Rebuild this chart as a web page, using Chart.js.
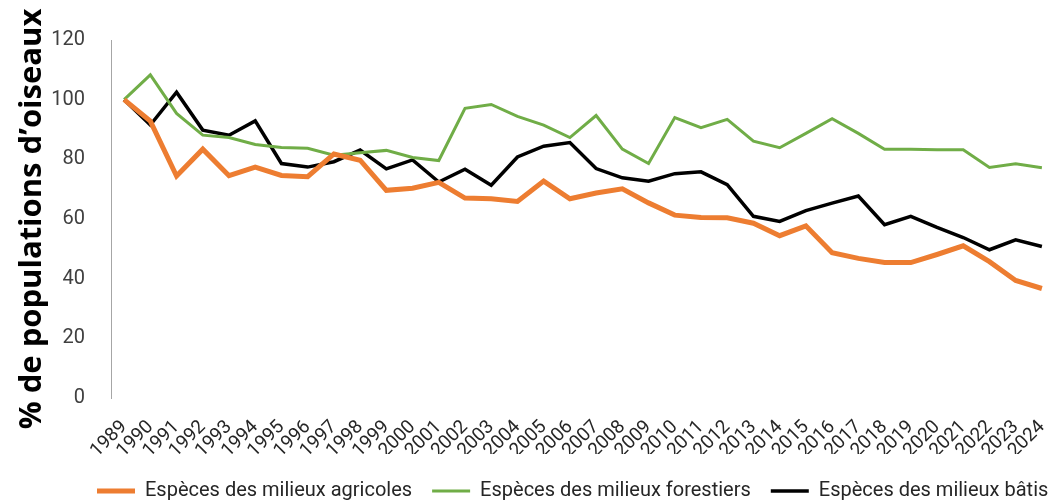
<!DOCTYPE html>
<html lang="fr">
<head>
<meta charset="utf-8">
<script src="https://cdn.jsdelivr.net/npm/chart.js@4/dist/chart.umd.min.js"></script>
<style>
  html, body { margin: 0; padding: 0; background: #ffffff; }
  #wrap { width: 1055px; height: 504px; }
</style>
</head>
<body>
<div id="wrap"><canvas id="chart" width="1055" height="504"></canvas></div>
<script>
// Années de suivi
const years = [
  '1989','1990','1991','1992','1993','1994','1995','1996','1997','1998',
  '1999','2000','2001','2002','2003','2004','2005','2006','2007','2008',
  '2009','2010','2011','2012','2013','2014','2015','2016','2017','2018',
  '2019','2020','2021','2022','2023','2024'
];

// Indice d'abondance (base 100 en 1989)
const agricoles = [
  100, 92.8, 74.4, 83.4, 74.5, 77.4, 74.6, 74.2, 81.8, 79.7,
  69.6, 70.3, 72.3, 67.0, 66.8, 65.9, 72.7, 66.8, 68.7, 70.1,
  65.4, 61.3, 60.5, 60.4, 58.6, 54.4, 57.7, 48.7, 46.8, 45.4,
  45.4, 48.1, 51.0, 45.7, 39.4, 36.7
];
const forestiers = [
  100, 108.3, 95.4, 88.1, 87.3, 85.0, 84.0, 83.7, 81.4, 82.2,
  83.0, 80.6, 79.6, 97.1, 98.4, 94.4, 91.5, 87.3, 94.7, 83.4,
  78.6, 94.0, 90.6, 93.4, 86.1, 83.9, 88.7, 93.6, 88.7, 83.4,
  83.4, 83.2, 83.2, 77.3, 78.5, 77.2
];
const batis = [
  100, 91.5, 102.5, 89.8, 88.1, 92.9, 78.6, 77.4, 79.2, 83.1,
  76.8, 79.8, 72.4, 76.7, 71.3, 80.8, 84.4, 85.6, 76.9, 73.8,
  72.7, 75.2, 75.8, 71.5, 60.9, 59.2, 62.8, 65.3, 67.7, 58.1,
  60.9, 57.2, 53.8, 49.7, 53.0, 50.8
];

// Graduations de l'axe vertical
const yTicks = [0, 20, 40, 60, 80, 100, 120];

const seriesNames = [
  'Espèces des milieux agricoles',
  'Espèces des milieux forestiers',
  'Espèces des milieux bâtis'
];

// Placement de la légende : départ à gauche sous l'axe, ligne proche du bas du canevas
const legendPlacement = {
  id: 'legendPlacement',
  afterLayout(chart) {
    const lg = chart.legend;
    if (!lg) return;
    const pad = chart.options.plugins.legend.labels.padding;
    const dx = (97 - pad) - lg.left;
    lg.left += dx; lg.right += dx;
    const h = lg.bottom - lg.top;
    lg.top = 486 - h / 2;
    lg.bottom = lg.top + h;
  }
};

new Chart(document.getElementById('chart'), {
  type: 'line',
  data: {
    labels: years,
    datasets: [
      { label: seriesNames[0], data: agricoles, borderColor: '#ED7D31', backgroundColor: '#ED7D31', borderWidth: 5 },
      { label: seriesNames[1], data: forestiers, borderColor: '#70AD47', backgroundColor: '#70AD47', borderWidth: 3 },
      { label: seriesNames[2], data: batis, borderColor: '#000000', backgroundColor: '#000000', borderWidth: 3.5 }
    ]
  },
  plugins: [legendPlacement],
  options: {
    responsive: false,
    animation: false,
    devicePixelRatio: 1,
    layout: { padding: { left: 14, right: -3, top: 40, bottom: 0 } },
    elements: {
      point: { radius: 0, hoverRadius: 0 },
      line: { tension: 0, borderJoinStyle: 'miter', borderCapStyle: 'butt' }
    },
    plugins: {
      tooltip: { enabled: false },
      legend: {
        position: 'bottom',
        align: 'start',
        labels: {
          usePointStyle: true,
          pointStyle: 'line',
          pointStyleWidth: 38,
          color: '#262626',
          font: { family: 'Roboto', size: 20 },
          padding: 20
        }
      }
    },
    scales: {
      x: {
        offset: true,
        grid: { display: false },
        border: { display: false },
        afterFit(scale) {
          scale.paddingLeft = 0;
          scale.paddingRight = 0;
          scale.height = 56;
        },
        ticks: {
          color: '#262626',
          font: { family: 'Roboto', size: 19 },
          minRotation: 45,
          maxRotation: 45,
          autoSkip: false,
          padding: 10
        }
      },
      y: {
        min: 0,
        max: 120,
        afterBuildTicks: (scale) => { scale.ticks = yTicks.map(v => ({ value: v })); },
        afterFit(scale) { scale.width = 97; },
        grid: { display: false },
        border: { display: true, color: '#a6a6a6', width: 1 },
        ticks: {
          color: '#404040',
          font: { family: 'Roboto', size: 20 },
          padding: 18
        },
        title: {
          display: true,
          text: '% de populations d\u2019oiseaux',
          color: '#000000',
          font: { family: 'Open Sans', size: 31, weight: 'bold' },
          padding: { top: 0, bottom: 0 }
        }
      }
    }
  }
});
</script>
</body>
</html>
